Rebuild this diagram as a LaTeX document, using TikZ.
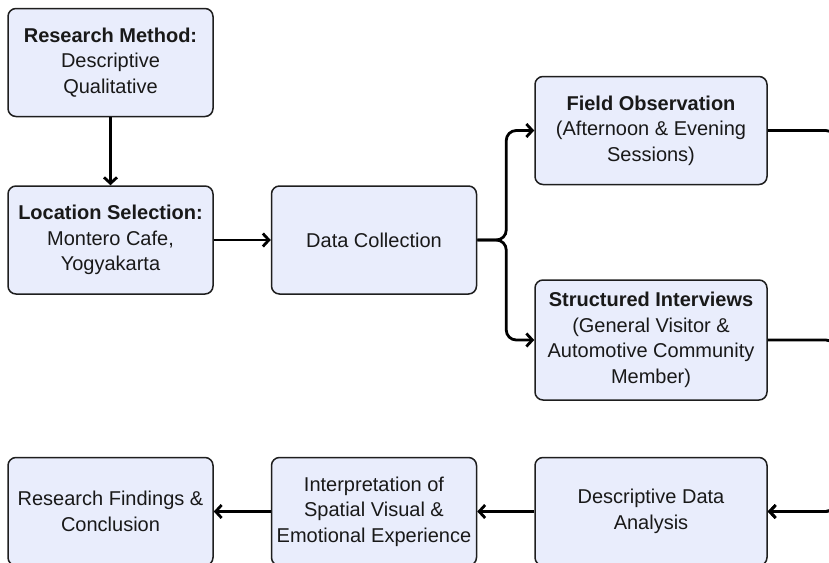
\documentclass[tikz,border=0pt]{standalone}
\usepackage{fontspec}
\setmainfont{Liberation Sans}
\usepackage{tikz}
\usetikzlibrary{positioning}
\usetikzlibrary{arrows.meta}
\usepackage{xcolor}
\definecolor{boxfill}{RGB}{233,237,252}
\definecolor{boxline}{RGB}{30,30,30}
\definecolor{inkgray}{RGB}{25,25,25}

\tikzset{
    stepbox/.style={draw=boxline, fill=boxfill, line width=1.5pt, rounded corners=8pt,
            align=center, minimum width=205pt, minimum height=108pt, inner sep=2pt,
            text=inkgray, font=\fontsize{20}{25.5}\selectfont},
    widebox/.style={stepbox, minimum width=232pt},
    flow/.style={->, line width=2.8pt, rounded corners=10pt},
    >={Straight Barb[length=6pt,width=13pt]},
}

\begin{document}
\begin{tikzpicture}

    \path[use as bounding box, clip] (0,0) rectangle (829pt,-562pt);

    %top left: method and place
    \node[stepbox] (rm) at (110.5pt,-62.5pt) {\textbf{Research Method:}\\Descriptive\\Qualitative};
    \node[stepbox, below = 68pt of rm] (ls) {\textbf{Location Selection:}\\Montero Cafe,\\Yogyakarta};

    %data collection
    \node[stepbox, right = 57pt of ls] (dc) {Data Collection};

    % ------------------

    %two ways of collecting
    \node[widebox, above right = 0pt and 57pt of dc] (fo) {\textbf{Field Observation}\\(Afternoon \& Evening\\Sessions)};
    \node[widebox, below = 94pt of fo, minimum height=120pt] (si) {\textbf{Structured Interviews}\\(General Visitor \&\\Automotive Community\\Member)};

    % ------------------

    %bottom row, right to left
    \node[widebox, below = 56pt of si] (dda) {Descriptive Data\\Analysis};
    \node[stepbox, left = 57pt of dda] (isv) {Interpretation of\\Spatial Visual \&\\Emotional Experience};
    \node[stepbox, left = 57pt of isv] (rfc) {Research Findings \&\\Conclusion};

    % flow
    \draw[flow] (rm) -- (ls);
    \draw[flow] (ls) -- (dc);
    \draw[flow] (dc.east) -- ++(29pt,0) |- (fo.west);
    \draw[flow] (dc.east) -- ++(29pt,0) |- (si.west);
    \draw[flow] (fo.east) -- ++(68pt,0) |- (dda.east);
    \draw[flow] (si.east) -- ++(68pt,0) |- (dda.east);
    \draw[flow] (dda) -- (isv);
    \draw[flow] (isv) -- (rfc);
\end{tikzpicture}
\end{document}
